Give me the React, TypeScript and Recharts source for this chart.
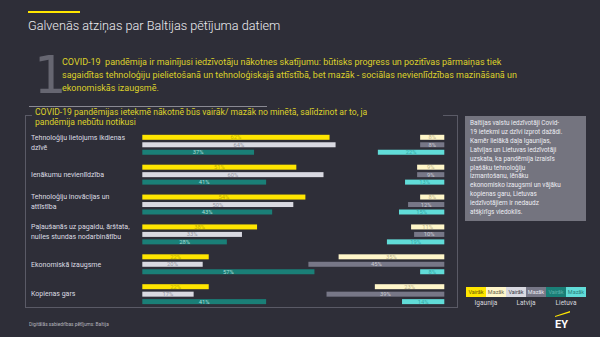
import { BarChart, Bar, XAxis, YAxis } from "recharts";

const COUNTRIES = ["Igaunija", "Latvija", "Lietuva"];

const QUESTIONS = [
  ["Tehnoloģiju lietojums ikdienas", "dzīvē"],
  ["Ienākumu nevienlīdzība"],
  ["Tehnoloģiju inovācijas un", "attīstība"],
  ["Paļaušanās uz pagaidu, ārštata,", "nulles stundas nodarbinātību"],
  ["Ekonomiskā izaugsme"],
  ["Kopienas gars"],
];

// "Vairāk" (more) by country
const MORE_EE = [62, 51, 54, 38, 22, 22];
const MORE_LV = [64, 60, 50, 33, 20, 17];
const MORE_LT = [37, 41, 43, 28, 57, 41];

// "Mazāk" (less) by country
const LESS_EE = [8, 9, 8, 11, 35, 23];
const LESS_LV = [8, 9, 12, 10, 45, 39];
const LESS_LT = [22, 13, 15, 19, 8, 14];

const INFO_LINES = [
  "Baltijas valstu iedzīvotāji Covid-",
  "19 ietekmi uz dzīvi izprot dažādi.",
  "Kamēr lielākā daļa Igaunijas,",
  "Latvijas un Lietuvas iedzīvotāji",
  "uzskata, ka pandēmija izraisīs",
  "plašāku tehnoloģiju",
  "izmantošanu, lēnāku",
  "ekonomisko izaugsmi un vājāku",
  "kopienas garu, Lietuvas",
  "iedzīvotājiem ir nedaudz",
  "atšķirīgs viedoklis.",
];

const PALETTE = [
  { more: "#ffe600", moreText: "#c2ae00", less: "#fff6c9", lessText: "#bdb48c" },
  { more: "#d9d9e1", moreText: "#9797a3", less: "#777787", lessText: "#c9c9d2" },
  { more: "#1a7f77", moreText: "#a9dcd6", less: "#61dcd8", lessText: "#36a9a6" },
];

const BG = "#2e2e38";
const LABEL_X = 31;

const MORE = [MORE_EE, MORE_LV, MORE_LT];
const LESS = [LESS_EE, LESS_LV, LESS_LT];

interface Row {
  key: string;
  country: number;
  label: string[] | null;
  more?: number;
  gap?: number;
  less?: number;
}

const rows: Row[] = [];
QUESTIONS.forEach((q, qi) => {
  COUNTRIES.forEach((_, ci) => {
    const more = MORE[ci][qi];
    const less = LESS[ci][qi];
    rows.push({
      key: `${qi}-${ci}`,
      country: ci,
      label: ci === 1 ? q : null,
      more,
      gap: 100 - more - less,
      less,
    });
  });
  if (qi < QUESTIONS.length - 1) {
    rows.push({ key: `${qi}-sp`, country: -1, label: null });
  }
});

function segment(kind: "more" | "less") {
  return (props: any) => {
    const { x, y, width, height, payload } = props;
    if (!payload || payload.country < 0 || !width) return <g />;
    const pal = PALETTE[payload.country];
    const fill = kind === "more" ? pal.more : pal.less;
    const color = kind === "more" ? pal.moreText : pal.lessText;
    return (
      <g>
        <rect x={x} y={y} width={width} height={height} fill={fill} />
        <text
          x={x + width / 2}
          y={y + height / 2}
          textAnchor="middle"
          dominantBaseline="central"
          fontSize={5.8}
          fill={color}
        >
          {payload[kind]}%
        </text>
      </g>
    );
  };
}

function QuestionTick(props: any) {
  const { y, index } = props;
  const row = rows[index];
  if (!row || !row.label) return <g />;
  const lines = row.label;
  const start = lines.length > 1 ? -7.5 : 0;
  return (
    <text x={LABEL_X} y={y} fontSize={7} fill="#dcdce2" textAnchor="start">
      {lines.map((l, i) => (
        <tspan key={i} x={LABEL_X} dy={i === 0 ? start : 10} dominantBaseline="central">
          {l}
        </tspan>
      ))}
    </text>
  );
}

function Legend() {
  const cells = [
    { t: "Vairāk", bg: PALETTE[0].more, c: "#6b6100" },
    { t: "Mazāk", bg: PALETTE[0].less, c: "#6b6650" },
    { t: "Vairāk", bg: PALETTE[1].more, c: "#3a3a44" },
    { t: "Mazāk", bg: PALETTE[1].less, c: "#e6e6ee" },
    { t: "Vairāk", bg: PALETTE[2].more, c: "#5fb2aa" },
    { t: "Mazāk", bg: PALETTE[2].less, c: "#2a7f7c" },
  ];
  return (
    <div style={{ position: "absolute", left: 466, top: 287, width: 120 }}>
      <div style={{ display: "flex" }}>
        {cells.map((c, i) => (
          <div
            key={i}
            style={{
              width: 20,
              height: 10,
              background: c.bg,
              color: c.c,
              fontSize: 5.5,
              lineHeight: "10px",
              textAlign: "center",
            }}
          >
            {c.t}
          </div>
        ))}
      </div>
      <div style={{ display: "flex", color: "#d8d8de", fontSize: 6.5, marginTop: 2 }}>
        {COUNTRIES.map((c) => (
          <div key={c} style={{ width: 40, textAlign: "center" }}>
            {c}
          </div>
        ))}
      </div>
    </div>
  );
}

export default function App() {
  return (
    <div
      style={{
        position: "fixed",
        left: 0,
        top: 0,
        width: 600,
        height: 337,
        background: BG,
        overflow: "hidden",
        fontFamily: "Roboto, 'Noto Sans', sans-serif",
      }}
    >
      {/* header */}
      <div style={{ position: "absolute", left: 28, top: 11, width: 52, height: 2, background: "#ffe600" }} />
      <div
        style={{
          position: "absolute",
          left: 28,
          top: 18,
          fontSize: 12.7,
          fontWeight: 300,
          color: "#ececf0",
          whiteSpace: "nowrap",
        }}
      >
        Galvenās atziņas par Baltijas pētījuma datiem
      </div>
      <div
        style={{
          position: "absolute",
          left: 34,
          top: 46,
          fontSize: 51,
          fontFamily: "'DejaVu Sans', sans-serif",
          fontWeight: 400,
          color: "#666671",
          lineHeight: "60px",
        }}
      >
        1
      </div>
      <div
        style={{
          position: "absolute",
          left: 62,
          top: 56,
          fontSize: 9,
          lineHeight: "13px",
          color: "#ddd12a",
          whiteSpace: "nowrap",
        }}
      >
        <div>
          COVID-19&nbsp; pandēmija ir mainījusi iedzīvotāju nākotnes skatījumu: būtisks progress un pozitīvas pārmaiņas tiek
        </div>
        <div>
          sagaidītas tehnoloģiju pielietošanā un tehnoloģiskajā attīstībā, bet mazāk - sociālas nevienlīdzības mazināšanā un
        </div>
        <div>ekonomiskās izaugsmē.</div>
      </div>
      <div style={{ position: "absolute", left: 29, top: 106, width: 238, height: 1, background: "#8a8a94" }} />

      {/* frame */}
      <div
        style={{
          position: "absolute",
          left: 25,
          top: 115,
          width: 431,
          height: 192,
          borderLeft: "1px solid #5a5a66",
          borderRight: "1px solid #5a5a66",
          borderBottom: "1px solid #5a5a66",
        }}
      />
      <div style={{ position: "absolute", left: 25, top: 115, width: 7, height: 1, background: "#5a5a66" }} />
      <div style={{ position: "absolute", left: 443, top: 115, width: 14, height: 1, background: "#5a5a66" }} />
      <div
        style={{
          position: "absolute",
          left: 35,
          top: 108,
          fontSize: 8.6,
          lineHeight: "9.5px",
          color: "#ddd12a",
          whiteSpace: "nowrap",
        }}
      >
        <div>COVID-19 pandēmijas ietekmē nākotnē būs vairāk/ mazāk no minētā, salīdzinot ar to, ja</div>
        <div>pandēmija nebūtu notikusi</div>
      </div>

      {/* chart */}
      <div style={{ position: "absolute", left: 0, top: 0 }}>
        <BarChart
          width={600}
          height={337}
          data={rows}
          layout="vertical"
          barSize={5}
          margin={{ top: 133.8, right: 155.7, bottom: 31.4, left: 0 }}
        >
          <XAxis type="number" domain={[0, 100]} hide />
          <YAxis
            type="category"
            dataKey="key"
            width={142.3}
            interval={0}
            axisLine={false}
            tickLine={false}
            tick={<QuestionTick />}
          />
          <Bar dataKey="more" stackId="a" isAnimationActive={false} shape={segment("more")} />
          <Bar dataKey="gap" stackId="a" isAnimationActive={false} fill="none" />
          <Bar dataKey="less" stackId="a" isAnimationActive={false} shape={segment("less")} />
        </BarChart>
      </div>

      {/* info box */}
      <div
        style={{
          position: "absolute",
          left: 465,
          top: 116,
          width: 121,
          height: 105,
          background: "#74747f",
          boxSizing: "border-box",
          padding: "3px 0 0 5px",
          fontSize: 6.4,
          lineHeight: "8.9px",
          color: "#ececf2",
          whiteSpace: "nowrap",
        }}
      >
        {INFO_LINES.map((l, i) => (
          <div key={i}>{l}</div>
        ))}
      </div>

      <Legend />

      {/* EY logo */}
      <svg style={{ position: "absolute", left: 553, top: 308 }} width={20} height={22}>
        <polygon points="2,8 17,3 17,4.5 2,9" fill="#ffe600" />
        <text x={2} y={20} fontSize={11} fontWeight={700} fill="#ffffff" fontFamily="Roboto, sans-serif">
          EY
        </text>
      </svg>

      <div
        style={{
          position: "absolute",
          left: 29,
          top: 322,
          fontSize: 4.8,
          color: "#b4b4bc",
          whiteSpace: "nowrap",
        }}
      >
        Digitālās sabiedrības pētījums: Baltija
      </div>
    </div>
  );
}
